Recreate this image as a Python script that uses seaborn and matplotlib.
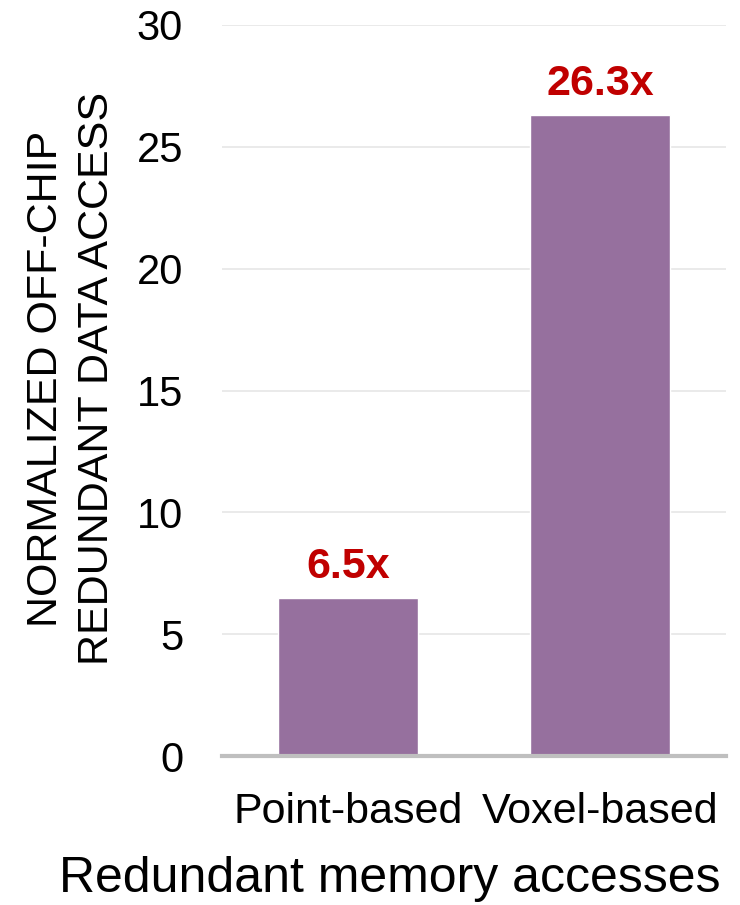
import matplotlib
matplotlib.use("Agg")
import matplotlib.pyplot as plt
import seaborn as sns
import pandas as pd

categories = ["Point-based", "Voxel-based"]
values = [6.5, 26.3]
value_labels = ["6.5x", "26.3x"]
yticks = [0, 5, 10, 15, 20, 25, 30]

sns.set_theme(style="white")
plt.rcParams["font.family"] = ["Liberation Sans", "DejaVu Sans"]

df = pd.DataFrame({"cat": categories, "val": values})

fig = plt.figure(figsize=(7.4, 9.05), dpi=100)
ax = fig.add_axes([0.30, 0.1646, 0.681, 0.8078])

sns.barplot(data=df, x="cat", y="val", color="#96709E", width=0.556,
            saturation=1, ax=ax, zorder=3)

ax.set_ylim(0, 30)
ax.set_xlim(-0.5, 1.5)
ax.set_yticks(yticks)
ax.yaxis.grid(True, color="#E6E6E6", linewidth=1.2, zorder=0)
ax.set_axisbelow(True)
for s in ["top", "right", "left"]:
    ax.spines[s].set_visible(False)
ax.spines["bottom"].set_color("#BFBFBF")
ax.spines["bottom"].set_linewidth(3)
ax.spines["bottom"].set_zorder(4)
ax.tick_params(axis="both", length=0, colors="black")
ax.tick_params(axis="y", labelsize=30, pad=28)
ax.tick_params(axis="x", labelsize=31, pad=26)

# value annotations above each bar
for i, (v, lab) in enumerate(zip(values, value_labels)):
    ax.text(i, v + 0.82, lab, ha="center", va="baseline", color="#C00000",
            fontsize=31, fontweight="bold")

ax.set_ylabel("NORMALIZED OFF-CHIP\nREDUNDANT DATA ACCESS", fontsize=31,
              color="black", linespacing=1.36)
ax.yaxis.set_label_coords(-0.209, 0.516)
ax.set_xlabel("Redundant memory accesses", fontsize=36, color="black")
ax.xaxis.set_label_coords(0.333, -0.137)

fig.savefig("out.png", dpi=100)
